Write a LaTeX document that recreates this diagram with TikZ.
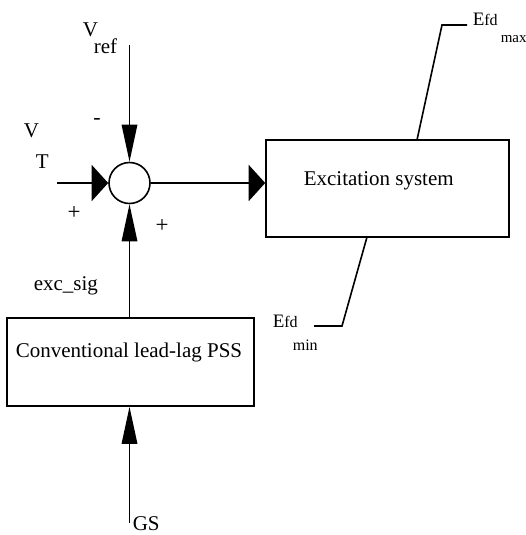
\documentclass[tikz,border=0pt]{standalone}
\usepackage{fontspec}
\setmainfont{Liberation Serif}
\usetikzlibrary{arrows.meta}
\begin{document}
\begin{tikzpicture}[x=1pt,y=-1pt,
  line width=1.6pt,
  txt/.style={inner sep=0pt,anchor=base west,font=\fontsize{20}{24}\selectfont},
  sub/.style={inner sep=0pt,anchor=base west,font=\fontsize{16}{19}\selectfont},
  blk/.style={draw,rectangle,inner sep=0pt},
  vtip/.style={-{Triangle[length=37pt,width=15.5pt]}},
  htip/.style={-{Triangle[length=16.5pt,width=36pt]}}]
\useasboundingbox (0,0) rectangle (526,535);
% blocks
\node[draw,circle,minimum size=41pt,inner sep=0pt] (sum) at (129.5,183) {};
\node[blk,minimum width=243pt,minimum height=97pt] (exc) at (387.5,188.5) {};
\node[blk,minimum width=247pt,minimum height=88pt] (pss) at (130.5,362) {};
\node[txt,font=\fontsize{21}{25}\selectfont] (exct) at (303,185) {Excitation system};
\node[txt,font=\fontsize{21}{25}\selectfont] (psst) at (15,357) {Conventional lead-lag PSS};
% coordinates
\coordinate (vref) at (129.5,45);
\coordinate (vt) at (57,183);
\coordinate (gs) at (129.5,523);
\coordinate (maxA) at (417,140);
\coordinate (maxB) at (442,25);
\coordinate (maxC) at (467,25);
\coordinate (minA) at (367,237);
\coordinate (minB) at (342,326);
\coordinate (minC) at (314,326);
% connectors
\draw[vtip] (vref) -- (sum.north);
\draw[htip] (vt) -- (sum.west);
\draw[htip] (sum.east) -- (sum.east -| exc.west);
\draw[vtip] (sum.south |- pss.north) -- (sum.south);
\draw[vtip] (gs) -- (gs |- pss.south);
\draw (maxA) -- (maxB) -- (maxC);
\draw (minA) -- (minB) -- (minC);
% labels
\node[txt,font=\fontsize{21}{25}\selectfont] (vrefV) at (82,37) {V};
\node[txt,font=\fontsize{21}{25}\selectfont] (vrefr) at (93,53) {ref};
\node[txt,font=\fontsize{21}{25}\selectfont] (vtV) at (23,137) {V};
\node[txt,font=\fontsize{21}{25}\selectfont] (vtT) at (35,168) {T};
\node[txt,anchor=center,font=\fontsize{22}{26}\selectfont] (minus) at (97,121) {-};
\node[txt,anchor=center,font=\fontsize{23}{27}\selectfont] (plusA) at (74,213) {+};
\node[txt,anchor=center,font=\fontsize{23}{27}\selectfont] (plusB) at (162,226) {+};
\node[txt,font=\fontsize{21}{25}\selectfont] (excsig) at (33,290) {exc\_sig};
\node[txt,font=\fontsize{21}{25}\selectfont] (gst) at (132,530) {GS};
\node[txt,font=\fontsize{19}{23}\selectfont] (emaxE) at (472,26) {E};
\node[sub] (emaxfd) at (483.5,26) {fd};
\node[sub,font=\fontsize{15}{18}\selectfont] (emaxm) at (500,43) {max};
\node[txt,font=\fontsize{19}{23}\selectfont] (eminE) at (272,327) {E};
\node[sub] (eminfd) at (283.5,327) {fd};
\node[sub] (eminm) at (292,350) {min};
\end{tikzpicture}
\end{document}
